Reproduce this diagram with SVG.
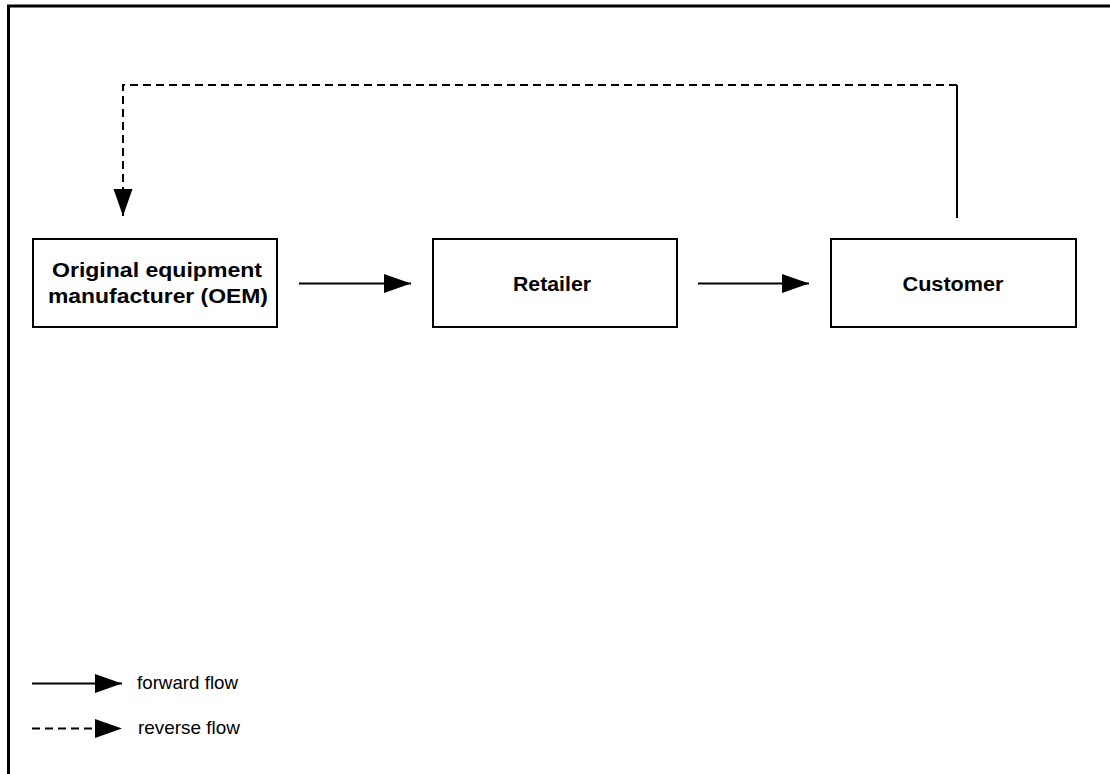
<svg xmlns="http://www.w3.org/2000/svg" width="1110" height="774" viewBox="0 0 1110 774">
  <style>
    .box { fill: #ffffff; stroke: #000000; stroke-width: 2; }
    .label { font-family: "Liberation Sans", Arial, sans-serif; font-weight: bold; font-size: 20px; fill: #000000; text-anchor: middle; }
    .legend { font-family: "Liberation Sans", Arial, sans-serif; font-size: 19px; fill: #000000; }
    .flow { fill: none; stroke: #000000; stroke-width: 2; }
    .dashed { stroke-dasharray: 8 5; }
  </style>
  <defs>
    <marker id="head" markerUnits="userSpaceOnUse" markerWidth="28" markerHeight="20" refX="27" refY="9.5" orient="auto">
      <path d="M0,0 L27,9.5 L0,19 Z" fill="#000000"/>
    </marker>
  </defs>

  <rect width="1110" height="774" fill="#ffffff"/>

  <!-- frame: top and left edges -->
  <g id="frame" fill="none" stroke="#000000" stroke-width="3">
    <path d="M8.5,774 V6 H1110"/>
  </g>

  <g id="oem">
    <rect class="box" x="33" y="239" width="244" height="88"/>
    <text class="label" x="157" y="277" textLength="210" lengthAdjust="spacingAndGlyphs">Original equipment</text>
    <text class="label" x="158" y="303" textLength="220" lengthAdjust="spacingAndGlyphs">manufacturer (OEM)</text>
  </g>

  <g id="retailer">
    <rect class="box" x="433" y="239" width="244" height="88"/>
    <text class="label" x="552" y="291" textLength="78" lengthAdjust="spacingAndGlyphs">Retailer</text>
  </g>

  <g id="customer">
    <rect class="box" x="831" y="239" width="245" height="88"/>
    <text class="label" x="953" y="291" textLength="101" lengthAdjust="spacingAndGlyphs">Customer</text>
  </g>

  <g id="connectors">
    <path class="flow" d="M299,283.5 H411" marker-end="url(#head)"/>
    <path class="flow" d="M698,283.5 H809" marker-end="url(#head)"/>
    <path class="flow" d="M957,218 V85"/>
    <path class="flow dashed" d="M957,85 H123 V216" marker-end="url(#head)"/>
  </g>

  <g id="legend">
    <path class="flow" d="M32,683.5 H122" marker-end="url(#head)"/>
    <text class="legend" x="137" y="689" textLength="101" lengthAdjust="spacingAndGlyphs">forward flow</text>
    <path class="flow dashed" d="M32,728.5 H122" marker-end="url(#head)"/>
    <text class="legend" x="138" y="734" textLength="102" lengthAdjust="spacingAndGlyphs">reverse flow</text>
  </g>
</svg>
